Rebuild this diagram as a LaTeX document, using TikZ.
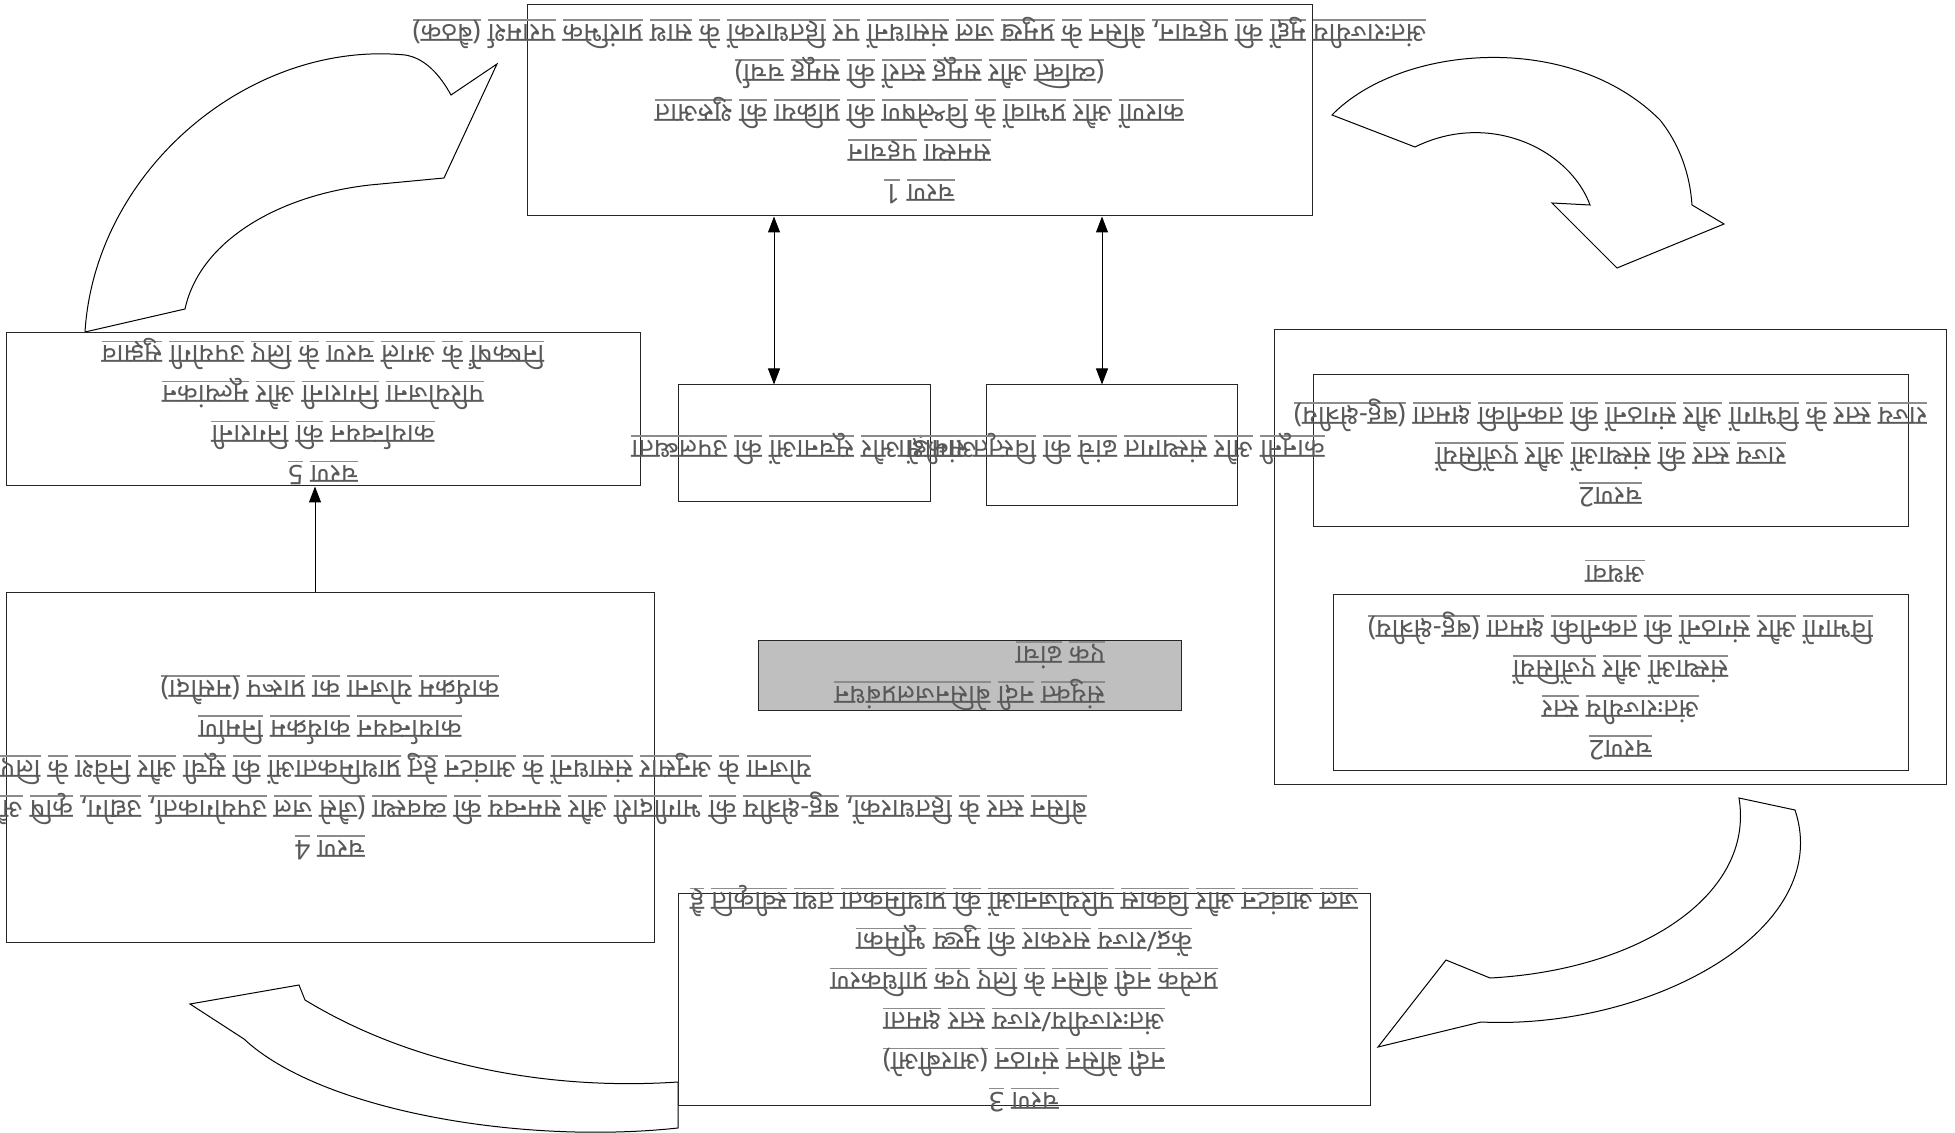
\documentclass[tikz,border=0pt]{standalone}
\usepackage{fontspec}
\usepackage{xcolor}
\usepackage{tikz}
\usetikzlibrary{arrows.meta}
\newfontfamily\hindi[Script=Devanagari]{Noto Sans}
\definecolor{txtgray}{RGB}{89,89,89}
\definecolor{ulgray}{RGB}{140,140,140}
\definecolor{fillgray}{RGB}{191,191,191}

\newcommand{\ulword}[1]{\setbox0=\hbox{#1}\rlap{\color{ulgray}\rule[-2.6pt]{\wd0}{0.7pt}}\box0}
\makeatletter
\def\uw#1{\uw@a#1 \@nil}
\def\uw@a#1 #2\@nil{\ulword{#1}\if\relax\detokenize{#2}\relax\else\ \uw@a#2\@nil\fi}
\makeatother

\begin{document}
\begin{tikzpicture}[
    x=0.5pt, y=-0.5pt,
    box/.style={draw=black!85, line width=0.5pt, inner sep=0pt},
    txt/.style={rotate=180, font=\hindi\fontsize{13.5}{20}\selectfont, text=txtgray, align=center, inner sep=0pt},
    dbl/.style={{Triangle[length=8pt,width=6pt]}-{Triangle[length=8pt,width=6pt]}, line width=0.5pt},
    arr/.style={-{Triangle[length=8pt,width=6pt]}, line width=0.5pt},
    bent/.style={draw=black, fill=white, line width=0.5pt}
]
\useasboundingbox (0,0) rectangle (1955,1133);

% curved cycle arrows
\draw[bent] (85,332) .. controls (95,170) and (250,40) .. (405,55)
    .. controls (425,58) and (440,75) .. (451,95) -- (497,64) -- (444,178) -- (370,185)
    .. controls (280,195) and (200,240) .. (185,309) -- cycle;
\draw[bent] (1332,115) .. controls (1400,45) and (1570,30) .. (1660,120)
    .. controls (1680,145) and (1690,175) .. (1692,205) -- (1724,224) -- (1617,268) -- (1552,203) -- (1590,205)
    .. controls (1570,150) and (1490,110) .. (1415,147) -- cycle;
\draw[bent] (1795,810) .. controls (1835,930) and (1650,1030) .. (1481,1022)
    -- (1378,1047) -- (1446,960) -- (1490,978)
    .. controls (1640,970) and (1755,895) .. (1739,798) -- cycle;
\draw[bent] (678,1128) .. controls (520,1145) and (320,1110) .. (244,1039)
    -- (190,1004) -- (299,985) -- (305,1000)
    .. controls (420,1070) and (560,1090) .. (678,1082) -- cycle;

% boxes
\node[box, minimum width=392.5pt, minimum height=105.5pt] (b1) at (919.5,110.5) {};
\node[box, minimum width=317pt, minimum height=76.5pt] (b5) at (323,409.5) {};
\node[box, minimum width=126pt, minimum height=58.5pt] (sl) at (804,443.5) {};
\node[box, minimum width=125.5pt, minimum height=60.5pt] (sr) at (1111.5,445.5) {};
\node[box, minimum width=336pt, minimum height=227pt] (b2) at (1610,557) {};
\node[box, minimum width=297.5pt, minimum height=76pt] (b2a) at (1610.5,450.5) {};
\node[box, minimum width=287.5pt, minimum height=87.5pt] (b2b) at (1620.5,682.5) {};
\node[box, minimum width=324pt, minimum height=174.5pt] (b4) at (330,767.5) {};
\node[box, fill=fillgray, minimum width=211.5pt, minimum height=35pt] (core) at (969.5,676) {};
\node[box, minimum width=346pt, minimum height=106pt] (b3) at (1024,999) {};

% texts
\node[txt] (t1) at (b1) {\uw{चरण 1}\\\uw{समस्या पहचान}\\
  \uw{कारणों और प्रभावों के विश्लेषण की प्रक्रिया की शुरुआत}\\
  \uw{(व्यक्ति और समूह स्तरों की समूह चर्चा)}\\
  \uw{अंतःराज्यीय मुद्दों की पहचान, बेसिन के प्रमुख जल संसाधनों पर हितधारकों के साथ प्रारंभिक परामर्श (बैठक)}};
\node[txt] (t2a) at (1610.5,453) {\uw{चरण2}\\\uw{राज्य स्तर की संस्थाओं और एजेंसियों}\\
  \uw{राज्य स्तर के विभागों और संगठनों की तकनीकी क्षमता (बहु-क्षेत्रीय)}};
\node[txt] (tor) at (1615,571) {\uw{अथवा}};
\node[txt] (t2b) at (1620.5,686) {\uw{चरण2}\\\uw{अंतःराज्यीय स्तर}\\\uw{संस्थाओं और एजेंसियों}\\
  \uw{विभागों और संगठनों की तकनीकी क्षमता (बहु-क्षेत्रीय)}};
\node[txt] (t3) at (b3) {\uw{चरण 3}\\\uw{नदी बेसिन संगठन (आरबीओ)}\\
  \uw{अंतःराज्यीय/राज्य स्तर क्षमता}\\
  \uw{प्रत्येक नदी बेसिन के लिए एक प्राधिकरण}\\
  \uw{केंद्र/राज्य सरकार की मुख्य भूमिका}\\
  \uw{जल आवंटन और विकास परियोजनाओं की प्राथमिकता तथा स्वीकृति है}};
\node[txt] (t4) at (b4) {\uw{चरण 4}\\
  \uw{बेसिन स्तर के हितधारकों, बहु-क्षेत्रीय की भागीदारी और समन्वय की व्यवस्था (जैसे जल उपयोगकर्ता, उद्योग, कृषि और पर्यावरण समूहों) के साथ परामर्श से योजना}\\
  \uw{योजना के अनुसार संसाधनों के आवंटन हेतु प्राथमिकताओं की सूची और निवेश के लिए वित्तीय व्यवस्था}\\
  \uw{कार्यान्वयन कार्यक्रम निर्माण}\\
  \uw{कार्यक्रम योजना का प्रारूप (मसौदा)}};
\node[txt] (t5) at (323,412) {\uw{चरण 5}\\\uw{कार्यान्वयन की निगरानी}\\
  \uw{परियोजना निगरानी और मूल्यांकन}\\
  \uw{निष्कर्षों के अगले चरण के लिए उपयोगी सुझाव}};
\node[txt, align=left] (tcore) at (core) {\uw{संयुक्त नदी बेसिनजलप्रबंधन}\\\uw{एक ढांचा}};
\node[txt] (tsl) at (804,449) {\uw{आंकड़ों और सूचनाओं की उपलब्धता}};
\node[txt] (tsr) at (1111.5,449) {\uw{कानूनी और संस्थागत ढांचे की विस्तृत समीक्षा}};

% links
\draw[dbl] ([xshift=-15pt]sl.north) -- ([xshift=-15pt]sl.north |- b1.south);
\draw[dbl] ([xshift=-4.75pt]sr.north) -- ([xshift=-4.75pt]sr.north |- b1.south);
\draw[arr] ([xshift=-7.5pt]b4.north) -- ([xshift=-7.5pt]b4.north |- b5.south);
\end{tikzpicture}
\end{document}
